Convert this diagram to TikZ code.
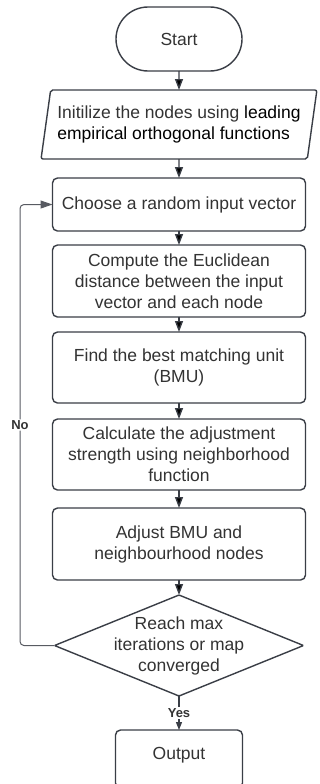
\documentclass[tikz,border=0pt]{standalone}
\usepackage{fontspec}
\setmainfont{Liberation Sans}
\usetikzlibrary{arrows.meta, positioning, shapes.geometric}
\definecolor{lineg}{RGB}{58,62,70}
\definecolor{textg}{RGB}{51,51,51}
\tikzset{
    %Define standard arrow tip
    >={Triangle[length=11pt,width=8pt]},
}

\begin{document}
\begin{tikzpicture}
	\tikzset{
	  wn/.style={draw=lineg, fill=white,
	             line width=1.4pt,
	             outer sep=0pt,
	             text=textg,
	             font=\fontsize{17.5}{21}\selectfont,
	             align=center,
	             minimum width=253pt,
	             minimum height=72pt,
	             shape=rectangle,
	             rounded corners=5pt},
	  term/.style={wn, minimum width=126pt, minimum height=64pt,
	             rounded corners=32pt},
	  io/.style={wn, shape=trapezium, trapezium stretches=true,
	             trapezium left angle=78, trapezium right angle=102,
	             minimum width=277pt, minimum height=69pt,
	             rounded corners=2pt, align=left},
	  decision/.style={wn, shape=diamond, aspect=2.47, inner sep=-8pt,
	             minimum width=249pt, minimum height=101pt,
	             rounded corners=1pt},
	  conn/.style={draw=lineg, line width=1.4pt, ->},
	  lbl/.style={fill=white, text=textg, inner sep=1pt,
	             font=\fontsize{13}{15}\selectfont\bfseries}
	}
	\useasboundingbox (0,0) rectangle (320pt,-784pt);

	\node [term] (start) at (179pt,-39pt) {Start};
	\node [io, below=19pt of start] (init)
	      {Initilize the nodes using \textcolor{black}{leading}\\
	       \textcolor{black}{empirical orthogonal functions}};
	\node [wn, below=19pt of init, minimum height=53pt] (choose)
	      {Choose a random input vector};
	\node [wn, below=14pt of choose] (dist)
	      {Compute the Euclidean\\distance between the input\\vector and each node};
	\node [wn, below=15pt of dist, minimum height=71pt] (bmu)
	      {Find the best matching unit\\(BMU)};
	\node [wn, below=16pt of bmu, minimum height=71pt] (strength)
	      {Calculate the adjustment\\strength using neighborhood\\function};
	\node [wn, below=18pt of strength] (adjust)
	      {Adjust BMU and\\neighbourhood nodes};
	\node [decision, below=15pt of adjust] (check)
	      {Reach max\\iterations or map\\converged};
	\node [wn, below=34pt of check, minimum width=127pt, minimum height=58pt,
	       text depth=11.7pt] (output)
	      {Output};

	\path[conn] (start) edge (init)
	            (init) edge (choose)
	            (choose) edge (dist)
	            (dist) edge (bmu)
	            (bmu) edge (strength)
	            (strength) edge (adjust)
	            (adjust) edge (check);

	% yes branch, label sits on the line
	\draw[draw=lineg, line width=1.2pt, -{Triangle[length=8pt,width=6pt]}]
	      (check) -- node[lbl] (yes) {Yes} (output);

	% no branch loops back to the input vector
	\draw[draw=lineg!85, line width=1pt, rounded corners=4pt,
	      -{Triangle[length=12pt,width=8pt]}]
	      (check.west) -- ++(-34.5pt,0)
	      |- node[lbl, pos=0.25] (no) {No} (choose.west);

\end{tikzpicture}
\end{document}
